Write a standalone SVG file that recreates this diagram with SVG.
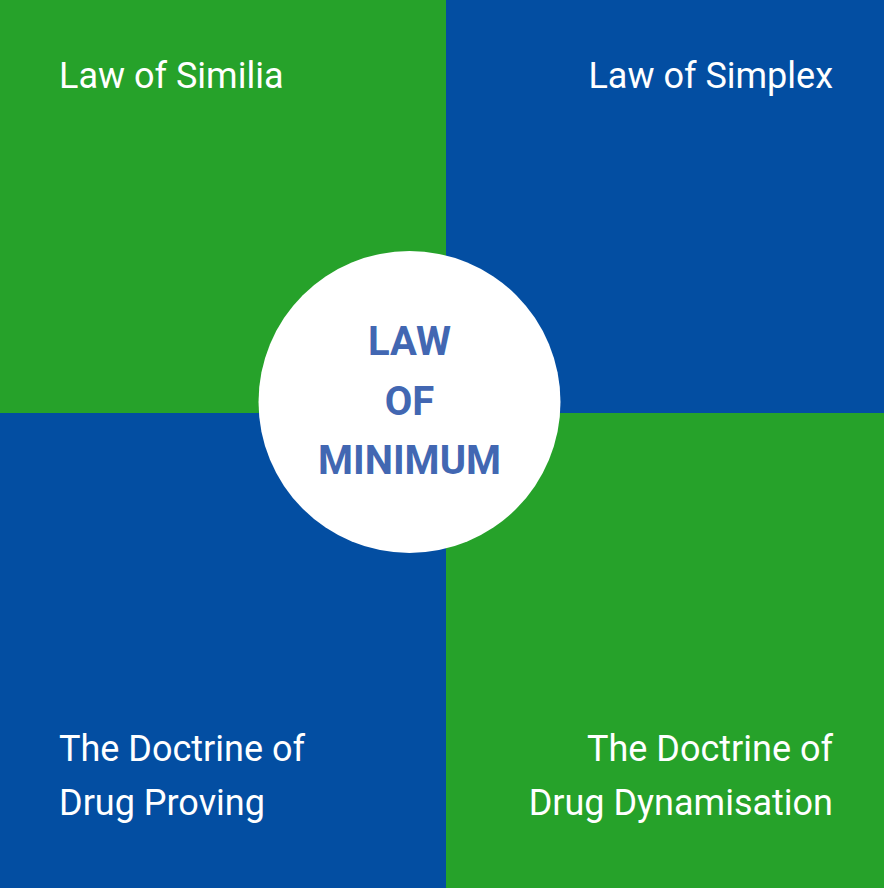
<svg xmlns="http://www.w3.org/2000/svg" width="884" height="888" viewBox="0 0 884 888">
<style>
.g{fill:#26A22A}
.b{fill:#034EA2}
.lbl{font-family:Roboto,"Liberation Sans",sans-serif;font-size:36px;fill:#ffffff}
.ctr{font-family:Roboto,"Liberation Sans",sans-serif;font-size:40px;font-weight:bold;fill:#4267B2;text-anchor:middle}
</style>
<g id="q-similia"><rect class="g" x="0" y="0" width="446" height="413"/><text class="lbl" x="59" y="88">Law of Similia</text></g>
<g id="q-simplex"><rect class="b" x="446" y="0" width="438" height="413"/><text class="lbl" x="833" y="88" text-anchor="end">Law of Simplex</text></g>
<g id="q-proving"><rect class="b" x="0" y="413" width="446" height="475"/><text class="lbl" x="59" y="761">The Doctrine of</text><text class="lbl" x="59" y="815">Drug Proving</text></g>
<g id="q-dynamisation"><rect class="g" x="446" y="413" width="438" height="475"/><text class="lbl" x="833" y="761" text-anchor="end">The Doctrine of</text><text class="lbl" x="833" y="815" text-anchor="end">Drug Dynamisation</text></g>
<g id="connectors"/>
<g id="center"><circle cx="409.5" cy="402" r="151" fill="#ffffff"/><text class="ctr" x="409.5" y="355">LAW</text><text class="ctr" x="409.5" y="415">OF</text><text class="ctr" x="409.5" y="474">MINIMUM</text></g>
</svg>
